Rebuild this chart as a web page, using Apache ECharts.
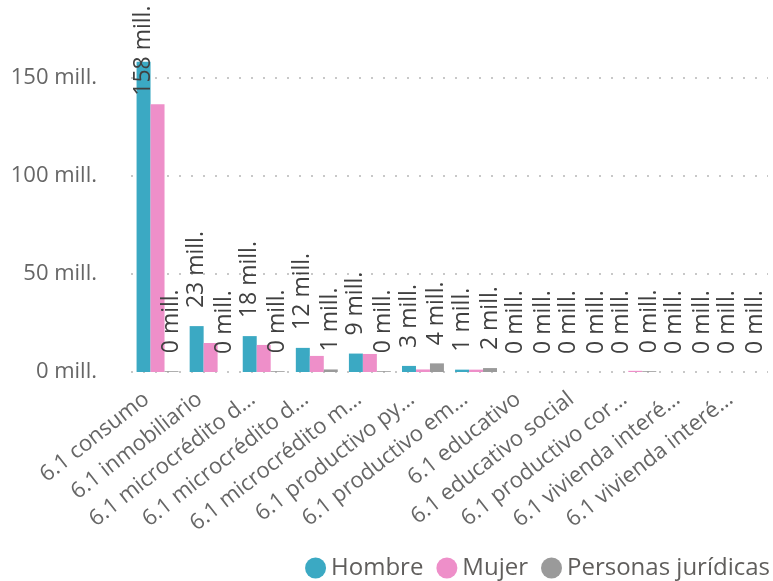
<!DOCTYPE html>
<html>
<head>
<meta charset="utf-8">
<script src="https://cdn.jsdelivr.net/npm/echarts@6/dist/echarts.min.js"></script>
<style>
  html, body { margin: 0; padding: 0; background: #fff; }
  #main { width: 773px; height: 581px; }
</style>
</head>
<body>
<div id="main"></div>
<script>
// categorias (texto recortado como en el original)
var categorias = [
   '6.1 consumo', '6.1 inmobiliario', '6.1 microcrédito d…', '6.1 microcrédito d…',
   '6.1 microcrédito m…', '6.1 productivo py…', '6.1 productivo em…', '6.1 educativo',
   '6.1 educativo social', '6.1 productivo cor…', '6.1 vivienda interé…', '6.1 vivienda interé…'
];
// valores en millones
var hombre = [158.2, 23.4, 18.3, 12.3, 9.4, 3.1, 1.2, 0, 0, 0, 0, 0];
var mujer = [136.5, 14.8, 13.8, 8.2, 9.2, 1.3, 1.2, 0, 0, 0.6, 0, 0];
var juridicas = [0.4, 0, 0.4, 1.3, 0.4, 4.4, 2.0, 0, 0, 0.4, 0, 0];
var yTicks = [0, 50, 100, 150];

var fuente = '"Open Sans", "Noto Sans", sans-serif';

var etiqueta = {
   show: true,
   position: 'top',
   rotate: 90,
   align: 'left',
   verticalAlign: 'middle',
   distance: 18,
   fontFamily: fuente,
   fontSize: 23,
   color: '#404040',
   formatter: function (p) {
      return Math.round(p.value) + ' mill.';
   }
};

// el primer valor no cabe arriba, se mete dentro de la barra
var datosHombre = hombre.map(function (v, i) {
   if (i === 0) {
      return { value: v, label: { position: [7, 34], distance: 0 } };
   }
   return v;
});

var chart = echarts.init(document.getElementById('main'));
var opt = {
   animation: false,
   textStyle: { fontFamily: fuente },
   color: ['#3ba9c3', '#ee8fc9', '#9a9a9a'],
   grid: { left: 131, right: 5, top: 19, bottom: 209 },
   legend: {
      right: 3,
      bottom: 1,
      padding: 0,
      icon: 'circle',
      itemWidth: 21,
      itemHeight: 21,
      itemGap: 13,
      textStyle: { fontFamily: fuente, fontSize: 24, lineHeight: 24, color: '#605e5c' },
      data: ['Hombre', 'Mujer', 'Personas jurídicas']
   },
   xAxis: {
      type: 'category',
      data: categorias,
      axisLine: { show: false },
      axisTick: { show: false },
      axisLabel: {
         interval: 0,
         rotate: 38,
         margin: 16,
         padding: [0, 14, 0, 0],
         fontFamily: fuente,
         fontSize: 22,
         color: '#666666'
      }
   },
   yAxis: {
      type: 'value',
      min: 0,
      max: 180,
      interval: 50,
      axisLine: { show: false },
      axisTick: { show: false },
      axisLabel: {
         showMaxLabel: false,
         margin: 34,
         fontFamily: fuente,
         fontSize: 22,
         color: '#666666',
         formatter: function (v) {
            return yTicks.indexOf(v) >= 0 ? v + ' mill.' : '';
         }
      },
      splitLine: {
         showMaxLine: false,
         lineStyle: { type: [2, 10], color: '#c8c8c8', width: 2 }
      }
   },
   series: [{
      name: 'Hombre',
      type: 'bar',
      barGap: 0,
      barCategoryGap: '21%',
      label: etiqueta,
      data: datosHombre
   }, {
      name: 'Mujer',
      type: 'bar',
      barGap: 0,
      barCategoryGap: '21%',
      data: mujer
   }, {
      name: 'Personas jurídicas',
      type: 'bar',
      barGap: 0,
      barCategoryGap: '21%',
      label: etiqueta,
      data: juridicas
   }]
};
chart.setOption(opt);
</script>
</body>
</html>
